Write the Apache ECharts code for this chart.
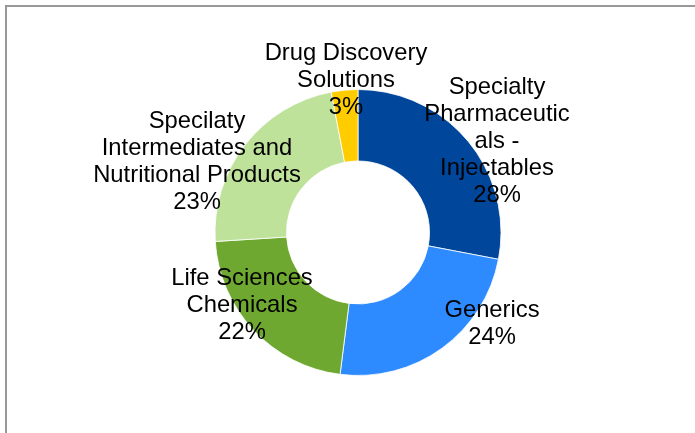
<!DOCTYPE html>
<html>
<head>
<meta charset="utf-8">
<script src="https://cdn.jsdelivr.net/npm/echarts@6/dist/echarts.min.js"></script>
<style>
  html, body { margin: 0; padding: 0; background: #fff; }
  #frame {
    position: absolute; left: 5px; top: 5px; width: 700px; height: 440px;
    border-top: 2px solid #999; border-left: 2px solid #999;
  }
  #main { position: absolute; left: 0; top: 0; width: 695px; height: 433px; }
</style>
</head>
<body>
<div id="frame"></div>
<div id="main"></div>
<script>
// segment names as they wrap on the chart
let names = [
    'Specialty\nPharmaceutic\nals -\nInjectables',
    'Generics',
    'Life Sciences\nChemicals',
    'Specilaty\nIntermediates and\nNutritional Products',
    'Drug Discovery\nSolutions'
];
let shares = [28, 24, 22, 23, 3];
let colors = ['#00479C', '#2E8BFF', '#6EA830', '#BFE29A', '#FFCC00'];

// where each data label sits (centre of text block)
let labelPos = [[497, 141], [492, 324], [242, 305], [197, 162], [346, 80]];

let pieData = [];
for (let i = 0; i < names.length; i++) {
    pieData.push({ name: names[i], value: shares[i], itemStyle: { color: colors[i] } });
}

let myChart = echarts.init(document.getElementById('main'));
myChart.setOption({
    animation: false,
    series: [{
        type: 'pie',
        center: [358, 232.5],
        radius: [71.5, 143],
        startAngle: 90,
        clockwise: true,
        itemStyle: { borderColor: '#fff', borderWidth: 0.8 },
        data: pieData,
        label: {
            show: true,
            position: 'outside',
            formatter: function (p) { return p.name + '\n' + p.value + '%'; },
            fontFamily: 'Liberation Sans, Arial, sans-serif',
            fontSize: 23.8,
            lineHeight: 27,
            color: '#000',
            align: 'center',
            overflow: 'none',
            width: 400
        },
        labelLine: { show: false },
        labelLayout: function (params) {
            let pos = labelPos[params.dataIndex];
            return { x: pos[0], y: pos[1], align: 'center', verticalAlign: 'middle' };
        },
        emphasis: { disabled: true }
    }]
});
</script>
</body>
</html>
